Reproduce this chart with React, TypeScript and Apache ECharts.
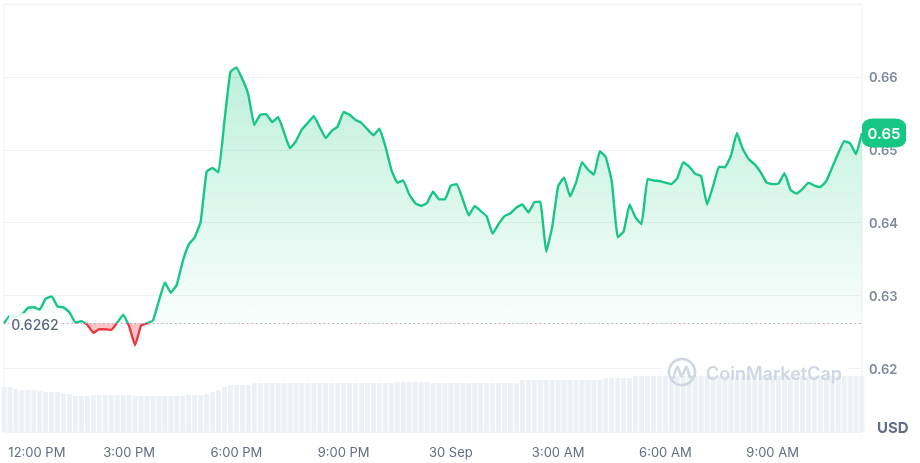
import React, { useEffect, useRef } from "react";
import * as echarts from "echarts";

// ---- data ----
const START_MINUTES = 11 * 60 + 30; // 29 Sep 11:30 AM
const STEP_MINUTES = 10;
const BASE_PRICE = 0.6262;

const prices = [
  0.6262, 0.6273, 0.6271, 0.6274, 0.6283, 0.6284, 0.6281, 0.6296, 0.6299, 0.6285,
  0.6284, 0.6277, 0.6263, 0.6265, 0.6260, 0.6249, 0.6254, 0.6254, 0.6253, 0.6263,
  0.6274, 0.6258, 0.6232, 0.6259, 0.6262, 0.6266, 0.6293, 0.6318, 0.6304, 0.6315,
  0.6347, 0.6370, 0.6380, 0.6401, 0.6470, 0.6475, 0.6469, 0.6540, 0.6607, 0.6613,
  0.6597, 0.6576, 0.6534, 0.6548, 0.6549, 0.6538, 0.6545, 0.6524, 0.6502, 0.6512,
  0.6528, 0.6537, 0.6546, 0.6531, 0.6516, 0.6526, 0.6532, 0.6552, 0.6548, 0.6541,
  0.6537, 0.6528, 0.6520, 0.6529, 0.6505, 0.6473, 0.6455, 0.6458, 0.6439, 0.6427,
  0.6423, 0.6427, 0.6443, 0.6432, 0.6432, 0.6451, 0.6453, 0.6432, 0.6410, 0.6423,
  0.6416, 0.6409, 0.6385, 0.6398, 0.6409, 0.6413, 0.6421, 0.6425, 0.6414, 0.6428,
  0.6429, 0.6360, 0.6394, 0.6450, 0.6462, 0.6436, 0.6455, 0.6483, 0.6473, 0.6466,
  0.6498, 0.6490, 0.6457, 0.6380, 0.6388, 0.6425, 0.6407, 0.6398, 0.6460, 0.6458,
  0.6457, 0.6455, 0.6453, 0.6461, 0.6483, 0.6477, 0.6467, 0.6464, 0.6425, 0.6450,
  0.6477, 0.6476, 0.6492, 0.6523, 0.6501, 0.6487, 0.6480, 0.6469, 0.6455, 0.6453,
  0.6454, 0.6468, 0.6445, 0.6440, 0.6446, 0.6455, 0.6451, 0.6449, 0.6457, 0.6476,
  0.6495, 0.6512, 0.6509, 0.6494, 0.6523,
];

// 24h volume (M USD), one value per 10-minute step
const volumes = [
  450, 450, 430, 420, 420, 420, 410, 400, 400, 400,
  380, 380, 360, 360, 360, 370, 370, 370, 370, 370,
  370, 370, 360, 360, 360, 360, 360, 360, 360, 360,
  360, 370, 370, 370, 380, 400, 420, 450, 470, 470,
  470, 470, 490, 490, 490, 490, 490, 490, 490, 490,
  490, 490, 490, 490, 490, 490, 490, 490, 490, 490,
  490, 490, 490, 490, 490, 490, 500, 500, 500, 500,
  500, 500, 490, 490, 490, 490, 490, 490, 490, 490,
  490, 490, 490, 490, 490, 490, 490, 520, 520, 520,
  520, 520, 520, 520, 520, 520, 520, 520, 520, 520,
  520, 540, 540, 540, 540, 540, 560, 560, 560, 560,
  560, 560, 560, 560, 560, 560, 560, 560, 560, 560,
  560, 560, 560, 560, 560, 560, 560, 560, 560, 560,
  560, 560, 560, 560, 560, 560, 560, 560, 560, 560,
  560, 560, 560, 560, 560,
];

const xTickCategories = [
  "29 Sep 12:00 PM", "29 Sep 3:00 PM", "29 Sep 6:00 PM", "29 Sep 9:00 PM",
  "30 Sep 12:00 AM", "30 Sep 3:00 AM", "30 Sep 6:00 AM", "30 Sep 9:00 AM",
];
const xTickLabels = ["12:00 PM", "3:00 PM", "6:00 PM", "9:00 PM", "30 Sep", "3:00 AM", "6:00 AM", "9:00 AM"];

function timeLabel(totalMinutes: number): string {
  const day = totalMinutes >= 1440 ? 30 : 29;
  const m = totalMinutes % 1440;
  const h24 = Math.floor(m / 60);
  const mm = m % 60;
  const h12 = h24 % 12 === 0 ? 12 : h24 % 12;
  return `${day} Sep ${h12}:${mm < 10 ? "0" + mm : mm} ${h24 < 12 ? "AM" : "PM"}`;
}
const categories = prices.map((_, i) => timeLabel(START_MINUTES + i * STEP_MINUTES));

// ---- layout ----
const GRID_LEFT = 4;
const GRID_RIGHT = 58;
const GRID_TOP = 4;
const GRID_BOTTOM = 31;
const CHART_H = 463;
const GRID_H = CHART_H - GRID_TOP - GRID_BOTTOM;
const Y_MIN = 0.6113;
const Y_MAX = 0.67;
const VOL_MAX = GRID_H * 10;

const GREEN = "#16c784";
const RED = "#ea3943";
const FONT = "Inter, 'Noto Sans', sans-serif";

export default function App() {
  const ref = useRef<HTMLDivElement>(null);

  useEffect(() => {
    const chart = echarts.init(ref.current!, null, { renderer: "svg" });
    const baseFrac = (Y_MAX - BASE_PRICE) / (Y_MAX - Y_MIN);
    const areaGradient = new echarts.graphic.LinearGradient(
      0, GRID_TOP, 0, GRID_TOP + GRID_H,
      [
        { offset: 0, color: "rgba(22,199,132,0.34)" },
        { offset: baseFrac - 0.001, color: "rgba(22,199,132,0.03)" },
        { offset: baseFrac, color: "rgba(234,57,67,0.3)" },
        { offset: 1, color: "rgba(234,57,67,0.3)" },
      ],
      true
    );
    const lineGradient = new echarts.graphic.LinearGradient(
      0, GRID_TOP, 0, GRID_TOP + GRID_H,
      [
        { offset: 0, color: GREEN },
        { offset: baseFrac, color: GREEN },
        { offset: baseFrac, color: RED },
        { offset: 1, color: RED },
      ],
      true
    );
    const last = prices[prices.length - 1];

    chart.setOption({
      animation: false,
      textStyle: { fontFamily: FONT },
      grid: {
        left: GRID_LEFT, right: GRID_RIGHT, top: GRID_TOP, bottom: GRID_BOTTOM,
        show: true, borderColor: "#eff2f5", borderWidth: 1, backgroundColor: "transparent",
        containLabel: false, outerBoundsMode: "none",
      },
      xAxis: {
        type: "category",
        data: categories,
        boundaryGap: false,
        axisLine: { show: false },
        axisTick: { show: false },
        splitLine: { show: false },
        axisLabel: {
          interval: (_idx: number, val: string) => xTickCategories.indexOf(val) >= 0,
          formatter: (val: string) => {
            const k = xTickCategories.indexOf(val);
            if (k === 0) return "{first|" + xTickLabels[0] + "}";
            return k >= 0 ? xTickLabels[k] : "";
          },
          rich: { first: { padding: [0, 0, 0, 30], color: "#616e85", fontSize: 13, fontFamily: FONT } },
          color: "#616e85",
          fontSize: 13,
          fontFamily: FONT,
          margin: 13,
        },
      },
      yAxis: [
        {
          type: "value",
          position: "right",
          min: Y_MIN,
          max: Y_MAX,
          splitNumber: 6,
          axisLine: { show: false },
          axisTick: { show: false },
          splitLine: { lineStyle: { color: "#eff2f5", width: 1 } },
          axisLabel: {
            showMinLabel: false,
            showMaxLabel: false,
            color: "#808a9d",
            fontSize: 13,
            fontWeight: 600,
            fontFamily: FONT,
            margin: 7,
            formatter: (v: number) => v.toFixed(2),
          },
        },
        { type: "value", min: 0, max: VOL_MAX, show: false },
      ],
      series: [
        {
          type: "bar",
          yAxisIndex: 1,
          data: volumes,
          barWidth: "82%",
          itemStyle: { color: "#edf0f4" },
          silent: true,
          z: 1,
        },
        {
          type: "line",
          data: prices,
          symbol: "none",
          showSymbol: false,
          smooth: 0.1,
          lineStyle: { width: 2.4, color: lineGradient },
          itemStyle: { color: GREEN },
          areaStyle: { origin: BASE_PRICE, color: areaGradient, opacity: 1 },
          z: 3,
          markLine: {
            silent: true,
            precision: 4,
            symbol: ["none", "none"],
            label: { show: false },
            lineStyle: { type: [1.5, 3], color: "#a6b0c3", width: 1 },
            data: [{ yAxis: BASE_PRICE }],
          },
          markPoint: {
            silent: true,
            data: [
              {
                coord: [0, BASE_PRICE],
                value: BASE_PRICE,
                symbol: "rect",
                symbolSize: [52, 22],
                symbolOffset: [31, 1],
                itemStyle: { color: "rgba(255,255,255,0.85)" },
                label: {
                  show: true, position: "inside", formatter: BASE_PRICE.toFixed(4),
                  color: "#58667e", fontSize: 14, fontWeight: 500, fontFamily: FONT,
                },
              },
              {
                coord: [prices.length - 1, last],
                value: last,
                symbol: "roundRect",
                symbolSize: [44, 29],
                symbolOffset: [22, 0],
                itemStyle: { color: GREEN },
                label: {
                  show: true, position: "inside", formatter: last.toFixed(2),
                  color: "#ffffff", fontSize: 15, fontWeight: 600, fontFamily: FONT,
                },
              },
            ],
          },
        },
      ],
      graphic: [
        {
          type: "rect", z: 1, silent: true,
          shape: { x: 662, y: 358, width: 186, height: 16 },
          style: { fill: "#ffffff" },
        },
        {
          type: "arc", z: 10, silent: true,
          shape: { cx: 682, cy: 372, r: 13, startAngle: 0.55, endAngle: Math.PI * 2 + 0.15 },
          style: { stroke: "#cfd6e4", lineWidth: 2.6, fill: "none", lineCap: "round" },
        },
        {
          type: "polyline", z: 10, silent: true,
          shape: { points: [[673.5, 378], [677.5, 366.5], [681.5, 376.5], [686.5, 366.5], [690, 377], [695, 376]], smooth: 0.25 },
          style: { stroke: "#cfd6e4", lineWidth: 2.6, fill: "none", lineCap: "round", lineJoin: "round" },
        },
        {
          type: "text", z: 10, silent: true, x: 706, y: 373,
          style: { text: "CoinMarketCap", fill: "#cfd6e4", fontSize: 18, fontWeight: 600, fontFamily: FONT, verticalAlign: "middle" },
        },
        {
          type: "text", z: 10, silent: true, x: 877, y: 427,
          style: { text: "USD", fill: "#616e85", fontSize: 15, fontWeight: 700, fontFamily: FONT, verticalAlign: "middle" },
        },
      ],
    });

    return () => chart.dispose();
  }, []);

  return <div ref={ref} style={{ position: "fixed", left: 0, top: 0, width: 920, height: CHART_H }} />;
}
